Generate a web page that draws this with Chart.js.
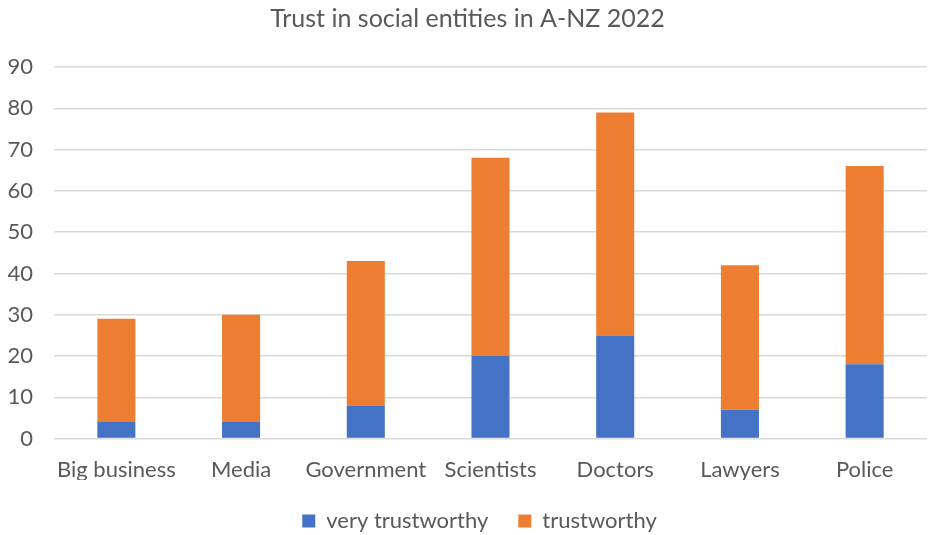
<!DOCTYPE html>
<html>
<head>
<meta charset="utf-8">
<script src="https://cdn.jsdelivr.net/npm/chart.js@4/dist/chart.umd.min.js"></script>
<style>
  html, body { margin: 0; padding: 0; background: #fff; }
  #wrap { width: 928px; height: 535px; }
</style>
</head>
<body>
<div id="wrap"><canvas id="chart" width="928" height="535"></canvas></div>
<script>
// data
const categories = ['Big business', 'Media', 'Government', 'Scientists', 'Doctors', 'Lawyers', 'Police'];
const veryTrustworthy = [4, 4, 8, 20, 25, 7, 18];
const trustworthy = [25, 26, 35, 48, 54, 35, 48];
const yTicks = [0, 10, 20, 30, 40, 50, 60, 70, 80, 90];

const textGray = '#595959';
const fontFamily = 'Lato, "Open Sans", sans-serif';

const ctx = document.getElementById('chart');

const data = {
  labels: categories,
  datasets: [{
    label: 'very trustworthy',
    data: veryTrustworthy,
    backgroundColor: '#4472C4',
    barPercentage: 0.305,
    categoryPercentage: 1
  }, {
    label: 'trustworthy',
    data: trustworthy,
    backgroundColor: '#ED7D31',
    barPercentage: 0.305,
    categoryPercentage: 1
  }]
};

// legend sits a bit right of the canvas centre, like the original
const legendShift = {
  id: 'legendShift',
  afterLayout(chart) {
    chart.legend.left += 24;
  }
};

const config = {
  type: 'bar',
  data,
  plugins: [legendShift],
  options: {
    responsive: false,
    animation: false,
    layout: {
      padding: { left: 8, right: 1, top: 4, bottom: -7 }
    },
    scales: {
      x: {
        stacked: true,
        grid: { display: false },
        border: { display: false },
        ticks: {
          color: textGray,
          font: { family: fontFamily, size: 22 },
          padding: 10,
          maxRotation: 0,
          autoSkip: false
        },
        // labels fit inside their categories, no extra side padding
        afterFit: function(axis) {
          axis.paddingLeft = 0;
          axis.paddingRight = 0;
          axis.height -= 13;
        }
      },
      y: {
        stacked: true,
        min: yTicks[0],
        max: yTicks[yTicks.length - 1],
        afterBuildTicks: function(axis) {
          axis.ticks = yTicks.map(v => ({ value: v }));
        },
        afterFit: function(axis) {
          axis.width = 46;
        },
        grid: { color: '#d9d9d9', lineWidth: 1.5, drawTicks: false },
        border: { display: false },
        ticks: {
          color: textGray,
          font: { family: fontFamily, size: 22 },
          padding: 21
        }
      }
    },
    plugins: {
      title: {
        display: true,
        text: 'Trust in social entities in A-NZ 2022',
        color: textGray,
        font: { family: fontFamily, size: 25, weight: 'normal' },
        padding: { top: 0, bottom: 33 }
      },
      legend: {
        position: 'bottom',
        labels: {
          color: textGray,
          font: { family: fontFamily, size: 22 },
          boxWidth: 13,
          boxHeight: 13,
          padding: 30
        }
      },
      tooltip: { enabled: false }
    }
  }
};

const myChart = new Chart(ctx, config);
</script>
</body>
</html>
